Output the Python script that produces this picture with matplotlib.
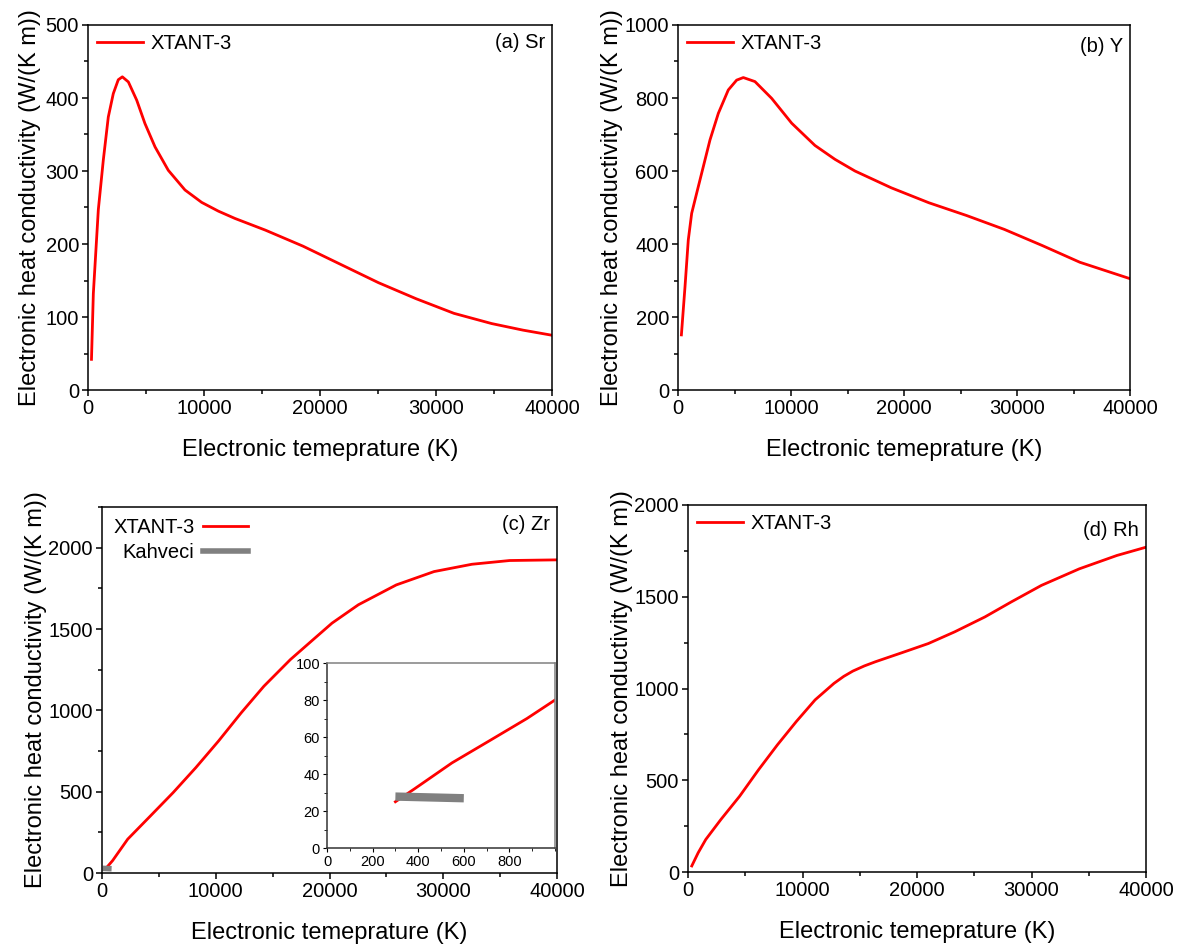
import numpy as np
import matplotlib
matplotlib.use("Agg")
import matplotlib.pyplot as plt
from matplotlib.ticker import MultipleLocator

plt.rcParams['font.family'] = ['Liberation Sans', 'DejaVu Sans']
plt.rcParams['axes.linewidth'] = 1.1

# electronic temperature (K) and heat conductivity W/(K m) per element
sr_T = [300, 460, 890, 1320, 1750, 2180, 2610, 2960, 3480, 4200, 4910, 5780, 6920,
        8360, 9800, 11240, 12670, 15290, 18540, 21790, 25040, 28290, 31550, 34800,
        37500, 40000]
sr_k = [42, 132, 247, 315, 374, 406, 425, 429, 422, 397, 365, 333, 301,
        274, 257, 245, 235, 219, 197, 172, 147, 125, 105, 91, 82, 75]

y_T = [300, 620, 910, 1210, 1650, 2240, 2830, 3570, 4450, 5190, 5780, 6810, 8290,
       10060, 12120, 13890, 15660, 18870, 22200, 25540, 28880, 32220, 35560, 40000]
y_k = [151, 283, 411, 484, 539, 612, 685, 758, 822, 849, 856, 845, 799,
       731, 670, 632, 600, 554, 513, 478, 440, 396, 350, 305]

zr_T = [300, 930, 2260, 4260, 6250, 8250, 10240, 12240, 14230, 16560, 18550, 20220,
        22540, 25870, 29190, 32520, 35840, 40000]
zr_k = [25, 76, 208, 351, 494, 648, 811, 985, 1148, 1312, 1434, 1536,
        1649, 1771, 1853, 1898, 1921, 1925]

# low temperature part of Zr for the inset
zr_low_T = [300, 384, 548, 713, 877, 1000]
zr_low_k = [25, 32, 46, 58, 70, 80]
kahveci_T = [300, 600]
kahveci_k = [27.8, 26.9]

rh_T = [330, 890, 1550, 2870, 4510, 6160, 7810, 9460, 11100, 12750, 13600, 14400,
        15400, 16380, 18680, 20990, 23300, 25930, 28240, 30870, 34170, 37460, 40000]
rh_k = [33, 105, 177, 286, 413, 557, 693, 820, 938, 1028, 1066, 1095,
        1123, 1146, 1195, 1245, 1309, 1390, 1472, 1562, 1652, 1725, 1770]

W, H = 1180, 947
fig = plt.figure(figsize=(W / 100, H / 100), dpi=100)


def box(l, t, r, b):
    return [l / W, 1 - b / H, (r - l) / W, (b - t) / H]


xlab = "Electronic temeprature (K)"
ylab = "Electronic heat conductivity (W/(K m))"


def setup(ax, ymax, ymaj, ymin, ypad):
    ax.set_xlim(0, 40000)
    ax.set_ylim(0, ymax)
    ax.xaxis.set_major_locator(MultipleLocator(10000))
    ax.xaxis.set_minor_locator(MultipleLocator(5000))
    ax.yaxis.set_major_locator(MultipleLocator(ymaj))
    ax.yaxis.set_minor_locator(MultipleLocator(ymin))
    ax.tick_params(which='both', direction='out', top=False, right=False,
                   labelsize=14.5, width=1.1, pad=2)
    ax.tick_params(which='major', length=4.5)
    ax.tick_params(which='minor', length=3)
    ax.set_xlabel(xlab, fontsize=17, labelpad=15)
    ax.set_ylabel(ylab, fontsize=17, labelpad=ypad)


def tag(ax, s, dy):
    h = ax.bbox.height
    ax.text(0.985, 1 - dy / h, s, transform=ax.transAxes, ha='right', va='center',
            fontsize=14.5)


panels = [
    (box(88, 25, 552, 390), sr_T, sr_k, 500, 100, 50, 3, "(a) Sr", 17),
    (box(678, 25, 1130, 390), y_T, y_k, 1000, 200, 100, 1, "(b) Y", 21),
    (box(688, 505, 1146, 872), rh_T, rh_k, 2000, 500, 250, 1, "(d) Rh", 26),
]

for rect, T, k, ymax, ymaj, ymin, ypad, name, dy in panels:
    ax = fig.add_axes(rect)
    ax.plot(T, k, color='red', lw=2, label='XTANT-3')
    setup(ax, ymax, ymaj, ymin, ypad)
    ax.legend(loc='upper left', frameon=False, fontsize=14.5, handlelength=2.3,
              borderaxespad=0.1, borderpad=0.35, handletextpad=0.35)
    tag(ax, name, dy)

# Zr panel with Kahveci comparison
axc = fig.add_axes(box(102, 507, 557, 873))
axc.plot(zr_T, zr_k, color='red', lw=2, label='XTANT-3')
axc.plot(kahveci_T, kahveci_k, color='#808080', lw=4, label='Kahveci')
setup(axc, 2250, 500, 250, 1)
axc.legend(loc='upper left', frameon=False, fontsize=14.5, handlelength=2.2,
           borderaxespad=0.2, borderpad=0.35, handletextpad=0.45, labelspacing=0.3,
           markerfirst=False)
tag(axc, "(c) Zr", 17)

ins = fig.add_axes(box(327, 663, 555, 848))
ins.plot(zr_low_T, zr_low_k, color='red', lw=2)
ins.plot(kahveci_T, kahveci_k, color='#808080', lw=6, solid_capstyle='butt')
ins.set_xlim(0, 1000)
ins.set_ylim(0, 100)
ins.xaxis.set_minor_locator(MultipleLocator(100))
ins.yaxis.set_major_locator(MultipleLocator(20))
ins.yaxis.set_minor_locator(MultipleLocator(10))
ins.set_xticks([0, 200, 400, 600, 800])
ins.tick_params(which='both', direction='out', top=False, right=False,
                labelsize=10.5, pad=2)
ins.tick_params(which='major', length=3)
ins.tick_params(which='minor', length=2)
for s in ins.spines.values():
    s.set_color('#333333')
ins.spines['top'].set_color('#808080')
ins.spines['right'].set_color('#808080')

fig.savefig("out.png", dpi=100)
